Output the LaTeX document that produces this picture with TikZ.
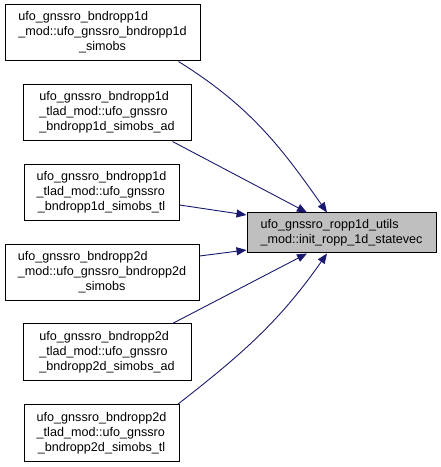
\documentclass[tikz,border=0pt]{standalone}
\usepackage{fontspec}
\setmainfont{Liberation Sans}
\usetikzlibrary{arrows.meta}
\definecolor{edgenavy}{HTML}{191970}
\definecolor{rootgrey}{HTML}{BFBFBF}
\newcommand{\fnlabel}[3]{\begin{tabular}{@{}l@{}}#1\\#2\\\multicolumn{1}{@{}c@{}}{#3}\end{tabular}}
\begin{document}
\begin{tikzpicture}
  \tikzset{
    callbox/.style={
      rectangle,
      draw=black,
      fill=white,
      line width=1pt,
      inner sep=0pt,
      minimum height=56pt,
      font=\fontsize{12.6}{15}\selectfont
    },
    rootbox/.style={
      callbox,
      fill=rootgrey,
      minimum height=40pt,
      minimum width=189pt
    },
    callarrow/.style={
      draw=edgenavy,
      line width=0.9pt,
      -{Triangle[length=10pt,width=8pt]}
    }
  }

  \useasboundingbox (0pt,0pt) rectangle (441pt,467pt);

  \node[callbox, minimum width=195pt] (SA) at (102.5pt, 434pt)
    {\fnlabel{ufo\_gnssro\_bndropp1d}{\_mod::ufo\_gnssro\_bndropp1d}{\_simobs}};
  \node[callbox, minimum width=168pt] (SB) at (107pt, 354pt)
    {\fnlabel{ufo\_gnssro\_bndropp1d}{\_tlad\_mod::ufo\_gnssro}{\_bndropp1d\_simobs\_ad}};
  \node[callbox, minimum width=155pt] (SC) at (101.5pt, 274.5pt)
    {\fnlabel{ufo\_gnssro\_bndropp1d}{\_tlad\_mod::ufo\_gnssro}{\_bndropp1d\_simobs\_tl}};
  \node[callbox, minimum width=194pt] (SD) at (102pt, 194pt)
    {\fnlabel{ufo\_gnssro\_bndropp2d}{\_mod::ufo\_gnssro\_bndropp2d}{\_simobs}};
  \node[callbox, minimum width=168pt, minimum height=57pt] (SE) at (107pt, 114.5pt)
    {\fnlabel{ufo\_gnssro\_bndropp2d}{\_tlad\_mod::ufo\_gnssro}{\_bndropp2d\_simobs\_ad}};
  \node[callbox, minimum width=155pt, minimum height=57pt] (SF) at (101.5pt, 33.5pt)
    {\fnlabel{ufo\_gnssro\_bndropp2d}{\_tlad\_mod::ufo\_gnssro}{\_bndropp2d\_simobs\_tl}};

  \node[rootbox, align=left] (R) at (341.5pt, 234pt)
    {ufo\_gnssro\_ropp1d\_utils\\\_mod::init\_ropp\_1d\_statevec};

  \draw[callarrow] ([xshift=-22pt]SA.south east) to[out=-32, in=125] ([xshift=-14.5pt]R.north);
  \draw[callarrow] ([xshift=-19pt]SB.south east) -- ([xshift=-34.5pt]R.north);
  \draw[callarrow] ([yshift=-12.5pt]SC.east) -- ([yshift=18pt]R.west);
  \draw[callarrow] ([yshift=17pt]SD.east) -- ([yshift=-17pt]R.west);
  \draw[callarrow] ([xshift=-19pt]SE.north east) -- ([xshift=-34.5pt]R.south);
  \draw[callarrow] ([xshift=-2pt]SF.north east) to[out=38, in=-125] ([xshift=-14.5pt]R.south);
\end{tikzpicture}
\end{document}
